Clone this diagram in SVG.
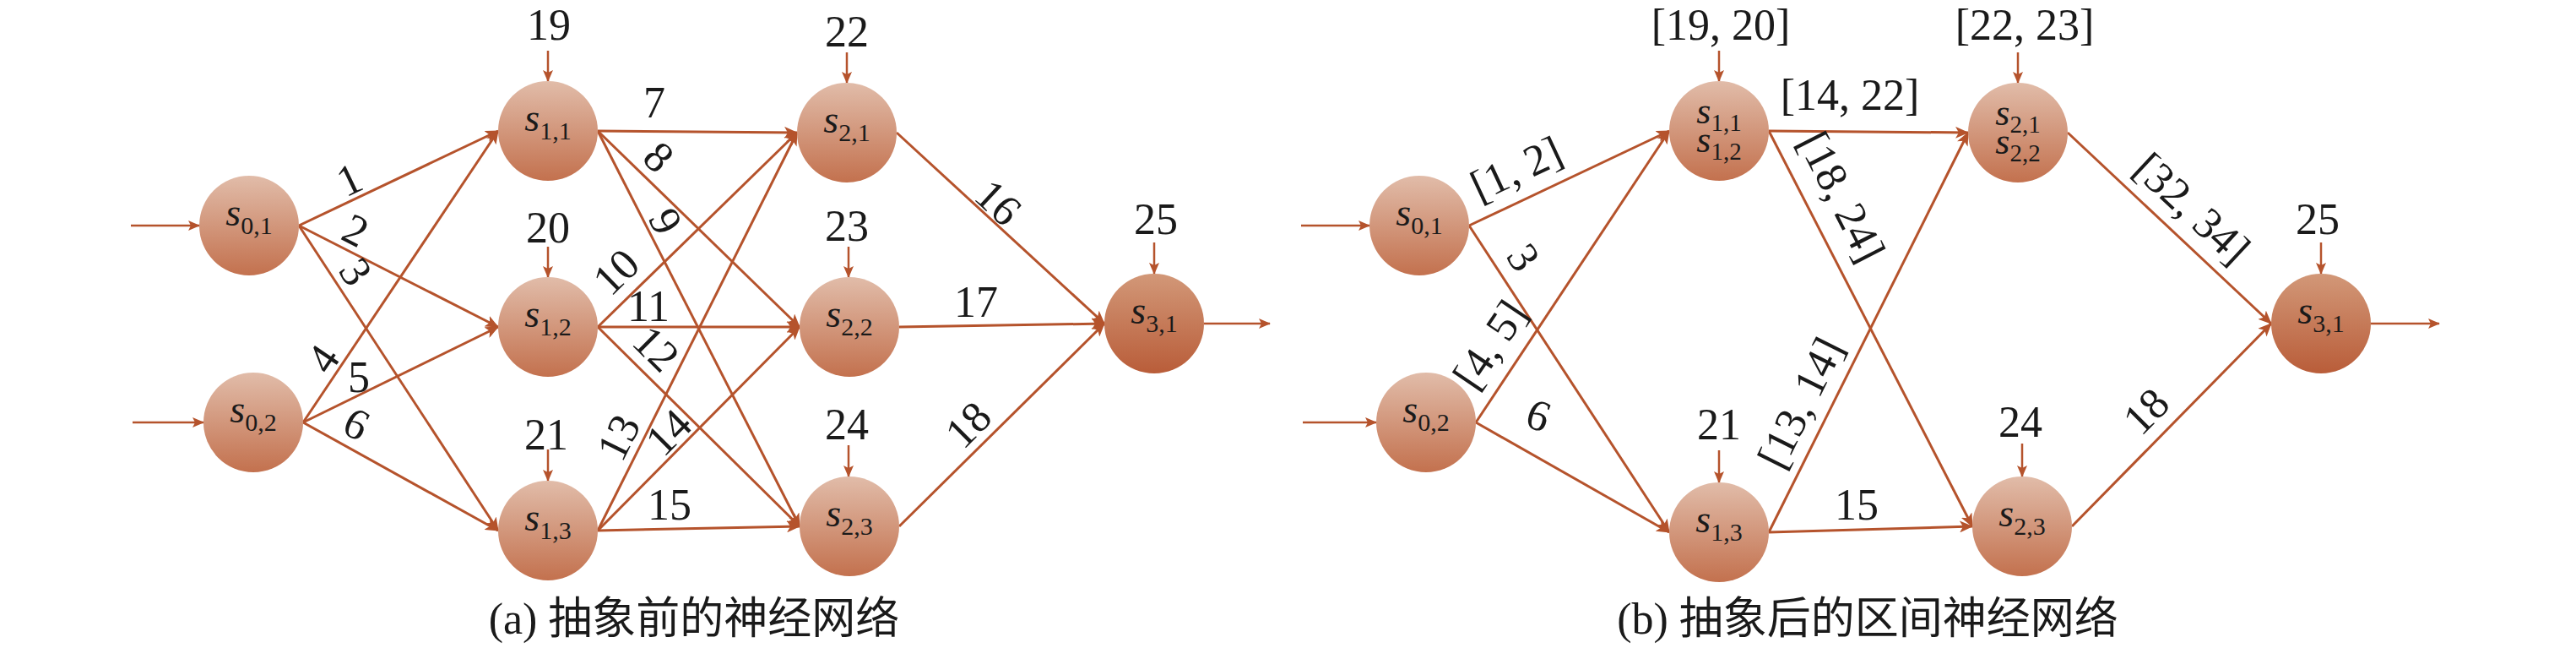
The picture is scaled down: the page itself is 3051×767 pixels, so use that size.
<svg xmlns="http://www.w3.org/2000/svg" width="3051" height="767" viewBox="0 0 3051 767">
<style>
  .edge{stroke:#b5532c;stroke-width:3;fill:none;marker-end:url(#ah)}
  .tin{stroke:#b5532c;stroke-width:2.5;fill:none;marker-end:url(#ahs)}
  .node{fill:url(#g1)}
  .nodeD{fill:url(#g2)}
  .lbl{font-family:"Liberation Serif","Times New Roman",serif;font-size:52px;fill:#1a1a1a;text-anchor:middle}
  .nl{font-family:"Liberation Serif","Times New Roman",serif;fill:#1a1a1a;text-anchor:middle}
  .s{font-style:italic;font-size:46px}
  .sub{font-size:30px}
  .s2{font-style:italic;font-size:44px}
  .sub2{font-size:29px}
  .cap{font-family:"Liberation Serif","Noto Sans CJK SC",serif;font-size:52px;fill:#1a1a1a;text-anchor:middle}
</style>
<defs>
  <linearGradient id="g1" x1="0" y1="0" x2="0" y2="1">
    <stop offset="0" stop-color="#e1bca9"/>
    <stop offset="1" stop-color="#c3714e"/>
  </linearGradient>
  <linearGradient id="g2" x1="0" y1="0" x2="0" y2="1">
    <stop offset="0" stop-color="#d29878"/>
    <stop offset="1" stop-color="#b95d39"/>
  </linearGradient>
  <marker id="ah" markerUnits="userSpaceOnUse" markerWidth="16" markerHeight="14" refX="15" refY="7" orient="auto">
    <path d="M0,0 L16,7 L0,14 L4,7 z" fill="#b5532c"/>
  </marker>
  <marker id="ahs" markerUnits="userSpaceOnUse" markerWidth="14" markerHeight="12" refX="13" refY="6" orient="auto">
    <path d="M0,0 L14,6 L0,12 L3,6 z" fill="#b5532c"/>
  </marker>
</defs>

<g id="connectors">
  <line class="tin" x1="155" y1="267" x2="236" y2="267"/>
  <line class="tin" x1="157" y1="500" x2="241" y2="500"/>
  <line class="tin" x1="649" y1="60" x2="649" y2="96"/>
  <line class="tin" x1="649" y1="292" x2="649" y2="328"/>
  <line class="tin" x1="649" y1="532" x2="649" y2="569"/>
  <line class="tin" x1="1003" y1="62" x2="1003" y2="98"/>
  <line class="tin" x1="1005" y1="292" x2="1005" y2="328"/>
  <line class="tin" x1="1005" y1="527" x2="1005" y2="564"/>
  <line class="tin" x1="1367" y1="287" x2="1367" y2="324"/>
  <line class="tin" x1="1426" y1="383" x2="1504" y2="383"/>
  <line class="edge" x1="354" y1="267" x2="590" y2="155"/>
  <line class="edge" x1="354" y1="267" x2="590" y2="387"/>
  <line class="edge" x1="354" y1="267" x2="590" y2="628"/>
  <line class="edge" x1="359" y1="500" x2="590" y2="155"/>
  <line class="edge" x1="359" y1="500" x2="590" y2="387"/>
  <line class="edge" x1="359" y1="500" x2="590" y2="628"/>
  <line class="edge" x1="708" y1="155" x2="944" y2="157"/>
  <line class="edge" x1="708" y1="155" x2="947" y2="387"/>
  <line class="edge" x1="708" y1="155" x2="947" y2="623"/>
  <line class="edge" x1="708" y1="387" x2="944" y2="157"/>
  <line class="edge" x1="708" y1="387" x2="947" y2="387"/>
  <line class="edge" x1="708" y1="387" x2="947" y2="623"/>
  <line class="edge" x1="708" y1="628" x2="944" y2="157"/>
  <line class="edge" x1="708" y1="628" x2="947" y2="387"/>
  <line class="edge" x1="708" y1="628" x2="947" y2="623"/>
  <line class="edge" x1="1062" y1="157" x2="1308" y2="383"/>
  <line class="edge" x1="1065" y1="387" x2="1308" y2="383"/>
  <line class="edge" x1="1065" y1="623" x2="1308" y2="383"/>
  <line class="tin" x1="1541" y1="267" x2="1622" y2="267"/>
  <line class="tin" x1="1543" y1="500" x2="1630" y2="500"/>
  <line class="tin" x1="2036" y1="60" x2="2036" y2="96"/>
  <line class="tin" x1="2390" y1="62" x2="2390" y2="98"/>
  <line class="tin" x1="2036" y1="533" x2="2036" y2="571"/>
  <line class="tin" x1="2395" y1="525" x2="2395" y2="564"/>
  <line class="tin" x1="2749" y1="287" x2="2749" y2="324"/>
  <line class="tin" x1="2808" y1="383" x2="2889" y2="383"/>
  <line class="edge" x1="1740" y1="267" x2="1977" y2="155"/>
  <line class="edge" x1="1740" y1="267" x2="1977" y2="630"/>
  <line class="edge" x1="1748" y1="500" x2="1977" y2="155"/>
  <line class="edge" x1="1748" y1="500" x2="1977" y2="630"/>
  <line class="edge" x1="2095" y1="155" x2="2331" y2="157"/>
  <line class="edge" x1="2095" y1="155" x2="2336" y2="623"/>
  <line class="edge" x1="2095" y1="630" x2="2331" y2="157"/>
  <line class="edge" x1="2095" y1="630" x2="2336" y2="623"/>
  <line class="edge" x1="2449" y1="157" x2="2690" y2="383"/>
  <line class="edge" x1="2454" y1="623" x2="2690" y2="383"/>
</g>

<g id="edge-labels">
  <text class="lbl" transform="translate(414,213) rotate(-25.6)" y="17">1</text>
  <text class="lbl" transform="translate(421,273) rotate(27)" y="17">2</text>
  <text class="lbl" transform="translate(421,322) rotate(57)" y="17">3</text>
  <text class="lbl" transform="translate(383,425) rotate(-56)" y="17">4</text>
  <text class="lbl" transform="translate(425,447)" y="17">5</text>
  <text class="lbl" transform="translate(422,502) rotate(27)" y="17">6</text>
  <text class="lbl" transform="translate(775,122)" y="17">7</text>
  <text class="lbl" transform="translate(780,186) rotate(44)" y="17">8</text>
  <text class="lbl" transform="translate(788,262) rotate(63)" y="17">9</text>
  <text class="lbl" transform="translate(730,322) rotate(-44.5)" y="17">10</text>
  <text class="lbl" transform="translate(768,363)" y="17">11</text>
  <text class="lbl" transform="translate(777,413) rotate(45)" y="17">12</text>
  <text class="lbl" transform="translate(733,518) rotate(-63.5)" y="17">13</text>
  <text class="lbl" transform="translate(792,512) rotate(-45)" y="17">14</text>
  <text class="lbl" transform="translate(793,598)" y="17">15</text>
  <text class="lbl" transform="translate(1182,240) rotate(43)" y="17">16</text>
  <text class="lbl" transform="translate(1156,358)" y="17">17</text>
  <text class="lbl" transform="translate(1147,503) rotate(-45)" y="17">18</text>

  <text class="lbl" transform="translate(1796,200) rotate(-25)" y="17">[1, 2]</text>
  <text class="lbl" transform="translate(1804,305) rotate(57)" y="17">3</text>
  <text class="lbl" transform="translate(1765,408) rotate(-56)" y="17">[4, 5]</text>
  <text class="lbl" transform="translate(1822,492) rotate(20)" y="17">6</text>
  <text class="lbl" transform="translate(2191,113)" y="17">[14, 22]</text>
  <text class="lbl" transform="translate(2181,233) rotate(63)" y="17">[18, 24]</text>
  <text class="lbl" transform="translate(2133,477) rotate(-63.5)" y="17">[13, 14]</text>
  <text class="lbl" transform="translate(2199,598)" y="17">15</text>
  <text class="lbl" transform="translate(2596,247) rotate(43)" y="17">[32, 34]</text>
  <text class="lbl" transform="translate(2542,487) rotate(-45)" y="17">18</text>
</g>

<g id="input-labels">
  <text class="lbl" x="650" y="47">19</text>
  <text class="lbl" x="649" y="287">20</text>
  <text class="lbl" x="647" y="532">21</text>
  <text class="lbl" x="1003" y="55">22</text>
  <text class="lbl" x="1003" y="285">23</text>
  <text class="lbl" x="1003" y="520">24</text>
  <text class="lbl" x="1369" y="277">25</text>
  <text class="lbl" x="2038" y="47">[19, 20]</text>
  <text class="lbl" x="2398" y="47">[22, 23]</text>
  <text class="lbl" x="2036" y="520">21</text>
  <text class="lbl" x="2393" y="517">24</text>
  <text class="lbl" x="2745" y="277">25</text>
</g>

<g id="a-s01"><circle class="node" cx="295" cy="267" r="59"/><text class="nl" x="295" y="267"><tspan class="s">s</tspan><tspan class="sub" dy="10">0,1</tspan></text></g>
<g id="a-s02"><circle class="node" cx="300" cy="500" r="59"/><text class="nl" x="300" y="500"><tspan class="s">s</tspan><tspan class="sub" dy="10">0,2</tspan></text></g>
<g id="a-s11"><circle class="node" cx="649" cy="155" r="59"/><text class="nl" x="649" y="155"><tspan class="s">s</tspan><tspan class="sub" dy="10">1,1</tspan></text></g>
<g id="a-s12"><circle class="node" cx="649" cy="387" r="59"/><text class="nl" x="649" y="387"><tspan class="s">s</tspan><tspan class="sub" dy="10">1,2</tspan></text></g>
<g id="a-s13"><circle class="node" cx="649" cy="628" r="59"/><text class="nl" x="649" y="628"><tspan class="s">s</tspan><tspan class="sub" dy="10">1,3</tspan></text></g>
<g id="a-s21"><circle class="node" cx="1003" cy="157" r="59"/><text class="nl" x="1003" y="157"><tspan class="s">s</tspan><tspan class="sub" dy="10">2,1</tspan></text></g>
<g id="a-s22"><circle class="node" cx="1006" cy="387" r="59"/><text class="nl" x="1006" y="387"><tspan class="s">s</tspan><tspan class="sub" dy="10">2,2</tspan></text></g>
<g id="a-s23"><circle class="node" cx="1006" cy="623" r="59"/><text class="nl" x="1006" y="623"><tspan class="s">s</tspan><tspan class="sub" dy="10">2,3</tspan></text></g>
<g id="a-s31"><circle class="nodeD" cx="1367" cy="383" r="59"/><text class="nl" x="1367" y="383"><tspan class="s">s</tspan><tspan class="sub" dy="10">3,1</tspan></text></g>

<g id="b-s01"><circle class="node" cx="1681" cy="267" r="59"/><text class="nl" x="1681" y="267"><tspan class="s">s</tspan><tspan class="sub" dy="10">0,1</tspan></text></g>
<g id="b-s02"><circle class="node" cx="1689" cy="500" r="59"/><text class="nl" x="1689" y="500"><tspan class="s">s</tspan><tspan class="sub" dy="10">0,2</tspan></text></g>
<g id="b-s11-12"><circle class="node" cx="2036" cy="155" r="59"/>
  <text class="nl"><tspan class="s2" x="2036" y="146">s</tspan><tspan class="sub2" dy="9">1,1</tspan><tspan class="s2" x="2036" y="180">s</tspan><tspan class="sub2" dy="9">1,2</tspan></text></g>
<g id="b-s13"><circle class="node" cx="2036" cy="630" r="59"/><text class="nl" x="2036" y="630"><tspan class="s">s</tspan><tspan class="sub" dy="10">1,3</tspan></text></g>
<g id="b-s21-22"><circle class="node" cx="2390" cy="157" r="59"/>
  <text class="nl"><tspan class="s2" x="2390" y="148">s</tspan><tspan class="sub2" dy="9">2,1</tspan><tspan class="s2" x="2390" y="182">s</tspan><tspan class="sub2" dy="9">2,2</tspan></text></g>
<g id="b-s23"><circle class="node" cx="2395" cy="623" r="59"/><text class="nl" x="2395" y="623"><tspan class="s">s</tspan><tspan class="sub" dy="10">2,3</tspan></text></g>
<g id="b-s31"><circle class="nodeD" cx="2749" cy="383" r="59"/><text class="nl" x="2749" y="383"><tspan class="s">s</tspan><tspan class="sub" dy="10">3,1</tspan></text></g>

<g id="captions">
  <text class="cap" x="822" y="750">(a) 抽象前的神经网络</text>
  <text class="cap" x="2212" y="750">(b) 抽象后的区间神经网络</text>
</g>
</svg>
